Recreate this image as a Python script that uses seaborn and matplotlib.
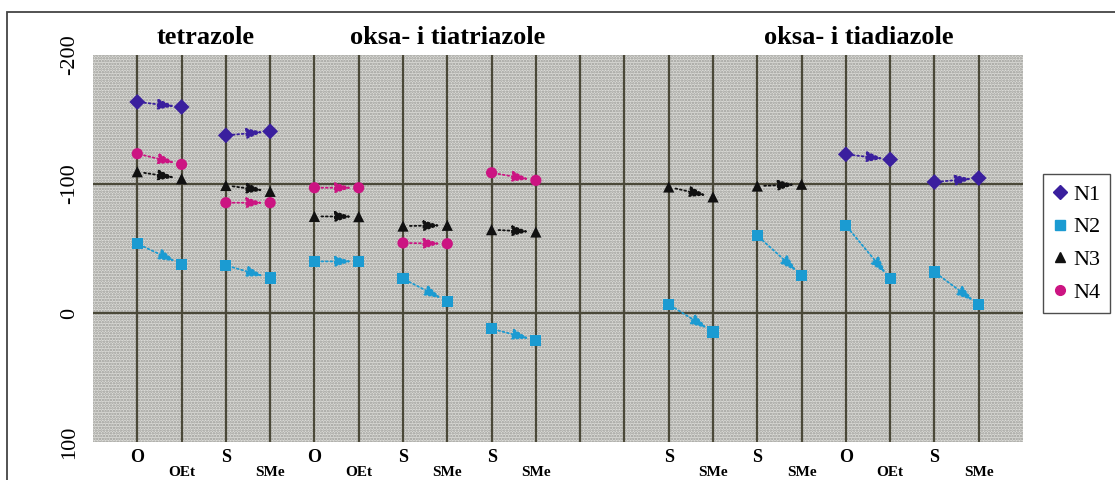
import numpy as np
import pandas as pd
import matplotlib
matplotlib.use("Agg")
import matplotlib.pyplot as plt
import seaborn as sns
from matplotlib.patches import Rectangle
from matplotlib.lines import Line2D

nan = np.nan

# x categories (substituent / derivative), one slot per vertical grid line
categories = ["O", "OEt", "S", "SMe", "O", "OEt", "S", "SMe", "S", "SMe",
              "", "", "S", "SMe", "S", "SMe", "O", "OEt", "S", "SMe"]

# chemical shifts per nitrogen atom (ppm); pairs (0,1), (2,3), ... are joined by arrows
n1 = [-163.6, -159.7, -137.7, -140.8, nan, nan, nan, nan, nan, nan,
      nan, nan, nan, nan, nan, nan, -123.0, -119.0, -101.5, -104.6]
n2 = [-53.7, -37.7, -36.9, -27.1, -40.0, -40.0, -26.6, -9.0, 12.2, 21.2,
      nan, nan, -6.7, 14.7, -60.0, -29.0, -67.9, -26.6, -31.8, -6.4]
n3 = [-109.5, -104.1, -98.9, -94.3, -74.9, -74.7, -67.4, -68.0, -64.6, -62.8,
      nan, nan, -97.7, -90.0, -98.4, -99.8, nan, nan, nan, nan]
n4 = [-123.5, -115.2, -85.5, -85.5, -97.1, -97.1, -54.3, -53.7, -108.7, -102.8,
      nan, nan, nan, nan, nan, nan, nan, nan, nan, nan]

series_names = ["N1", "N2", "N3", "N4"]
series_values = [n1, n2, n3, n4]
series_colors = ["#3a1f9e", "#1b9bd2", "#111111", "#cc1482"]
series_markers = ["D", "s", "^", "o"]

group_titles = ["tetrazole", "oksa- i tiatriazole", "oksa- i tiadiazole"]
group_centers = [1.55, 7.0, 16.3]

y_ticks = [-200, -100, 0, 100]

# long-form table
rows = []
for name, vals in zip(series_names, series_values):
    for i, v in enumerate(vals):
        if not np.isnan(v):
            rows.append({"pos": i, "shift": v, "atom": name, "pair": i // 2})
df = pd.DataFrame(rows)

serif = ["Liberation Serif", "DejaVu Serif"]
plt.rcParams["font.family"] = serif
plt.rcParams["hatch.linewidth"] = 1.2

fig = plt.figure(figsize=(11.15, 4.8), dpi=100)
ax = fig.add_axes([93 / 1115, 1 - 442 / 480, 930 / 1115, 387 / 480])

# stippled plot background
ax.set_facecolor("#dcdcd8")
ax.add_patch(Rectangle((0, 0), 1, 1, transform=ax.transAxes, facecolor="none",
                       edgecolor="#9a9a96", hatch="......", lw=0, zorder=0))

ax.set_xlim(-1, 20)
ax.set_ylim(100, -200)

# grid lines
for i in range(len(categories)):
    ax.axvline(i, color="#4a4838", lw=1.6, zorder=1)
for y in (-100, 0):
    ax.axhline(y, color="#4a4838", lw=1.6, zorder=1)

# arrows between paired derivatives
for name, vals, col in zip(series_names, series_values, series_colors):
    for a in range(0, len(vals), 2):
        y0, y1 = vals[a], vals[a + 1]
        if np.isnan(y0) or np.isnan(y1):
            continue
        ax.annotate("", xy=(a + 1, y1), xytext=(a, y0),
                    arrowprops=dict(arrowstyle="-|>,head_length=1.0,head_width=0.32",
                                    color=col, lw=1.3, linestyle=(0, (1, 1.5)),
                                    shrinkA=5, shrinkB=5),
                    zorder=3)

palette = dict(zip(series_names, series_colors))
markers = dict(zip(series_names, series_markers))
sns.scatterplot(data=df, x="pos", y="shift", hue="atom", style="atom",
                palette=palette, markers=markers, s=65, edgecolor="none",
                legend=False, ax=ax, zorder=4)

for s in ax.spines.values():
    s.set_visible(False)

ax.set_xticks([])
ax.set_yticks(y_ticks)
ax.set_yticklabels([str(t) for t in y_ticks], rotation=90, va="center",
                   fontsize=16, family=serif)
ax.tick_params(axis="y", length=0, pad=10)
ax.set_xlabel("")
ax.set_ylabel("")

# staggered category labels
tr = ax.get_xaxis_transform()
for i, lab in enumerate(categories):
    if not lab:
        continue
    if i % 2 == 0:
        ax.text(i, -0.04, lab, transform=tr, ha="center", va="center",
                fontsize=13, fontweight="bold", family=serif)
    else:
        ax.text(i, -0.078, lab, transform=tr, ha="center", va="center",
                fontsize=11, fontweight="bold", family=serif)

# family titles
for t, xc in zip(group_titles, group_centers):
    ax.text(xc, 1.045, t, transform=tr, ha="center", va="center",
            fontsize=19, fontweight="bold", family=serif)

# legend
handles = [Line2D([], [], marker=m, color=c, linestyle="none", markersize=7)
           for m, c in zip(series_markers, series_colors)]
leg = fig.legend(handles, series_names, loc="upper left",
                 bbox_to_anchor=(1043 / 1115, 1 - 174 / 480),
                 frameon=True, fancybox=False, edgecolor="#222222",
                 prop={"family": serif, "size": 16}, handlelength=0.6,
                 handletextpad=0.3, labelspacing=0.55, borderpad=0.45,
                 borderaxespad=0)
leg.get_frame().set_linewidth(1.0)

# chart border
fig.patches.append(Rectangle((7 / 1115, -0.05), 1.2, 1 - 12 / 480 + 0.05,
                             transform=fig.transFigure, fill=False,
                             edgecolor="#444444", lw=1.3))

fig.savefig("out.png", dpi=100, facecolor="white")
